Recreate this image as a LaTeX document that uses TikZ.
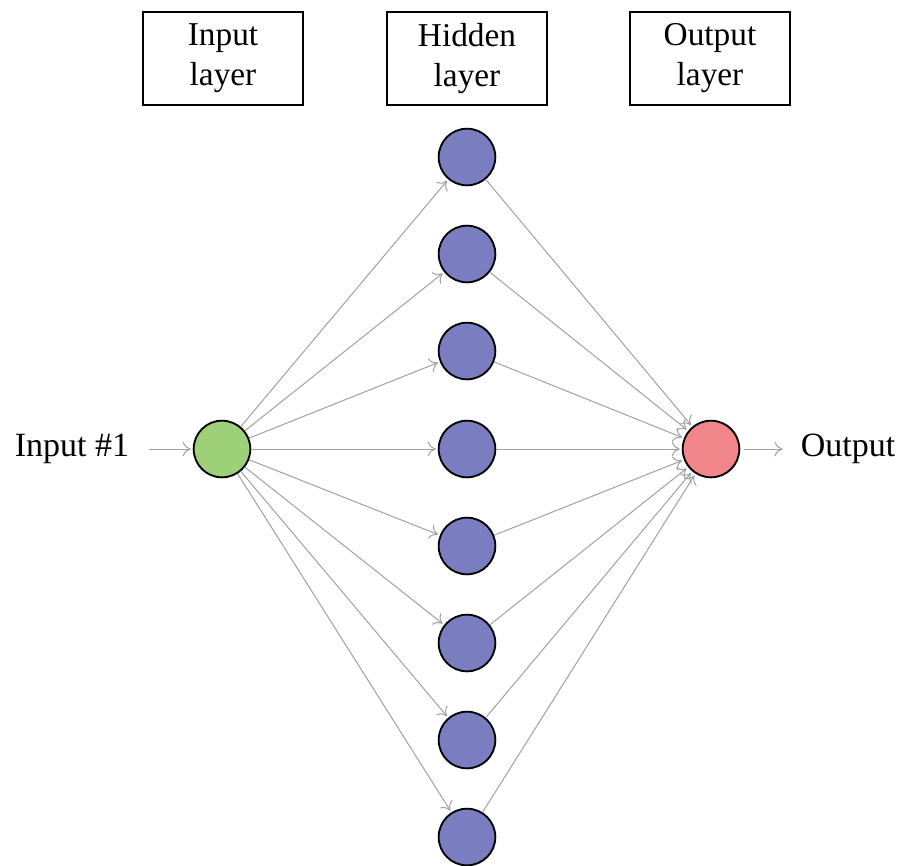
\documentclass[tikz,border=0pt]{standalone}
\usepackage{fontspec}
\setmainfont{Liberation Serif}
\usetikzlibrary{arrows.meta}
\definecolor{ingreen}{RGB}{158,208,122}
\definecolor{hidblue}{RGB}{122,126,192}
\definecolor{outred}{RGB}{240,134,138}
\definecolor{edgegray}{RGB}{160,160,160}
\begin{document}
\begin{tikzpicture}[x=0.75pt,y=-0.75pt,
  neuron/.style={circle,draw=black,line width=1.4pt,minimum size=42.5pt,inner sep=0pt},
  layerbox/.style={draw=black,line width=1.2pt,minimum width=120pt,minimum height=69.75pt,align=center,inner sep=0pt,font=\fontsize{25}{30}\selectfont},
  lbl/.style={font=\fontsize{25.5}{30}\selectfont,inner sep=0pt},
  conn/.style={draw=edgegray,line width=0.75pt,shorten >=1.5pt,-{To[length=6pt,width=11pt]}}]
\useasboundingbox (0,0) rectangle (906,865);
\node[layerbox] (bin) at (223,58.5) {Input\\layer};
\node[layerbox] (bhid) at (467,58.5) {Hidden\\layer};
\node[layerbox] (bout) at (710,58.5) {Output\\layer};
\node[neuron,fill=ingreen] (in) at (222,449) {};
\node[neuron,fill=outred] (out) at (711,449) {};
\foreach \i/\y in {1/157,2/254,3/351,4/449,5/546,6/643,7/740,8/837}{
  \node[neuron,fill=hidblue] (h\i) at (467,\y) {};
}
\foreach \i in {1,...,8}{
  \draw[conn] (in) -- (h\i);
  \draw[conn] (h\i) -- (out);
}
\node[lbl] (xin) at (72,449) {Input \#1};
\node[lbl] (yout) at (848,449) {Output};
\draw[conn] (xin.east) ++(20,0) coordinate (xs) -- (in);
\draw[conn] ([xshift=3pt]out.east) -- ([xshift=-12pt]yout.west);
\end{tikzpicture}
\end{document}
